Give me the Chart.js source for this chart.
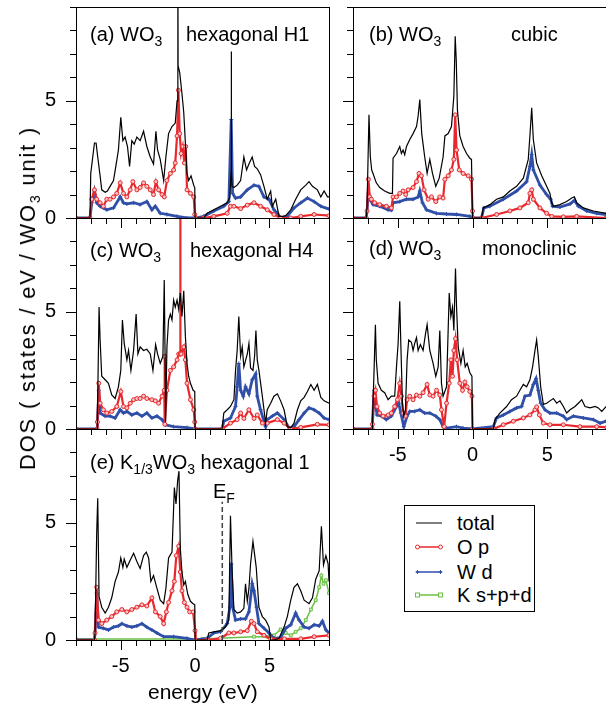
<!DOCTYPE html>
<html>
<head>
<meta charset="utf-8">
<script src="https://cdn.jsdelivr.net/npm/chart.js@4.4.0/dist/chart.umd.min.js"></script>
<style>
body { margin:0; width:606px; height:704px; overflow:hidden; background:#fff; position:relative;
       font-family:"Liberation Sans", Arial, sans-serif; color:#000; }
canvas { position:absolute; }
.lbl { position:absolute; font-size:20px; line-height:20px; white-space:nowrap; }
.lbl sub { font-size:14px; vertical-align:-5px; line-height:0; }
#ytitle { left:28px; top:298px; font-size:22px; letter-spacing:1.8px; transform:translate(-50%,-50%) rotate(-90deg); }
#legend { position:absolute; left:404px; top:505px; width:129px; height:105px; border:1px solid #000; background:#fff; }
#legend .row { position:absolute; left:0; height:20px; width:129px; }
#legend svg { position:absolute; left:10px; top:5px; }
#legend span { position:absolute; left:52px; top:0; font-size:20px; line-height:20px; }
</style>
</head>
<body>
<canvas id="pa" width="340" height="268" style="left:0;top:0"></canvas>
<canvas id="pb" width="290" height="268" style="left:330px;top:0"></canvas>
<canvas id="pc" width="340" height="268" style="left:0;top:211px"></canvas>
<canvas id="pd" width="290" height="268" style="left:330px;top:211px"></canvas>
<canvas id="pe" width="340" height="268" style="left:0;top:422px"></canvas>

<div class="lbl" style="left:90px;top:24px">(a) WO<sub>3</sub></div>
<div class="lbl" style="left:186px;top:24px">hexagonal H1</div>
<div class="lbl" style="left:369px;top:24px">(b) WO<sub>3</sub></div>
<div class="lbl" style="left:511px;top:24px">cubic</div>
<div class="lbl" style="left:90px;top:240px">(c) WO<sub>3</sub></div>
<div class="lbl" style="left:190px;top:240px">hexagonal H4</div>
<div class="lbl" style="left:369px;top:238px">(d) WO<sub>3</sub></div>
<div class="lbl" style="left:482px;top:238px">monoclinic</div>
<div class="lbl" style="left:90px;top:452px">(e) K<sub>1/3</sub>WO<sub>3</sub> hexagonal 1</div>
<div class="lbl" style="left:213px;top:481px">E<sub>F</sub></div>
<div class="lbl" style="left:148px;top:682px;font-size:21px">energy (eV)</div>
<div class="lbl" id="ytitle">DOS ( states / eV / WO<sub>3</sub> unit )</div>

<div id="legend"></div>

<script>
// axis setup
const xRange = [-8, 9];
const yRange = [0, 9];
const xLabelValues = [-5, 0, 5];
const yLabelValues = [0, 5];
const efEnergy = 1.83;
const efTop = 5.9;

const seriesNames = ["total", "O p", "W d", "K s+p+d"];
const seriesColors = ["#000000", "#e8282d", "#2f4fa8", "#6cbf45"];

// (a) hexagonal H1  [energy, DOS]
const aTotal = [[-8,0],[-7.06,0],[-7.01,1.9],[-6.76,3.2],[-6.65,3.2],[-6.54,2.6],[-6.38,1.8],[-6.27,1.2],[-6.04,1.1],[-5.89,1.15],[-5.71,1.35],[-5.48,1.6],[-5.30,2.3],[-5.15,2.9],[-4.99,4.3],[-4.85,3.3],[-4.70,3.45],[-4.54,3.05],[-4.40,2.2],[-4.25,3.3],[-4.09,3.15],[-3.91,3.45],[-3.69,3.3],[-3.46,3.7],[-3.24,3.05],[-3.01,2.6],[-2.79,2.3],[-2.63,3.7],[-2.52,2.9],[-2.34,2.5],[-2.11,1.6],[-1.96,2.6],[-1.78,3.6],[-1.55,3.9],[-1.33,4.05],[-1.21,5.0],[-1.16,5.2],[-1.15,12],[-1.14,6.5],[-1.03,6.2],[-0.88,5.3],[-0.76,4.5],[-0.65,3.2],[-0.54,1.9],[-0.43,1.6],[-0.27,1.8],[-0.09,1.4],[-0.02,1.3],[0,0],[0.58,0],[0.81,0.2],[1.26,0.35],[1.71,0.5],[2.16,0.65],[2.34,0.9],[2.42,2.0],[2.43,7.1],[2.45,2.0],[2.49,1.35],[2.61,1.3],[2.83,1.4],[3.06,1.6],[3.28,2.6],[3.46,2.05],[3.62,2.3],[3.84,2.6],[4.00,2.2],[4.18,2.1],[4.40,1.85],[4.63,1.35],[4.85,0.8],[5.08,1.15],[5.19,0.5],[5.42,0.8],[5.64,0.07],[5.87,0.07],[6.09,0.1],[6.43,0.35],[6.76,0.8],[7.10,1.2],[7.44,1.4],[7.66,1.55],[7.89,1.35],[8.22,1.2],[8.45,0.9],[8.67,1.15],[8.90,0.9],[9.0,0.9]];
const aOp = [[-8,0],[-7.06,0],[-6.94,0.8],[-6.76,1.2],[-6.61,0.8],[-6.38,0.65],[-6.16,0.5],[-5.93,0.8],[-5.71,0.8],[-5.48,0.9],[-5.26,1.05],[-5.03,1.5],[-4.81,1.05],[-4.58,0.9],[-4.36,1.2],[-4.18,1.55],[-3.91,1.2],[-3.69,1.3],[-3.46,1.5],[-3.24,1.35],[-3.01,1.2],[-2.79,1.0],[-2.63,1.55],[-2.45,1.2],[-2.22,1.0],[-2.07,0.9],[-1.89,1.6],[-1.66,1.9],[-1.44,2.05],[-1.33,2.35],[-1.21,3.5],[-1.12,5.45],[-1.03,3.6],[-0.94,2.75],[-0.83,3.05],[-0.72,2.35],[-0.63,3.05],[-0.54,1.2],[-0.31,1.05],[-0.09,0.9],[-0.02,0.15],[0.04,0],[0.58,0],[1.26,0.07],[2.16,0.2],[2.38,0.5],[2.61,0.5],[3.06,0.4],[3.51,0.55],[3.96,0.65],[4.40,0.5],[4.85,0.35],[5.30,0.15],[5.75,0],[6.43,0],[7.10,0.07],[8.00,0.15],[9.0,0.1]];
const aWd = [[-8,0],[-7.06,0],[-6.94,0.65],[-6.76,1.15],[-6.61,0.65],[-6.38,0.5],[-6.16,0.43],[-5.93,0.35],[-5.48,0.43],[-5.03,0.9],[-4.81,0.65],[-4.58,0.6],[-4.13,0.65],[-3.69,0.57],[-3.24,0.7],[-2.90,0.35],[-2.67,0.5],[-2.34,0.2],[-1.89,0.15],[-1.21,0.07],[-0.54,0],[0.04,0],[0.58,0.07],[1.26,0.3],[1.93,0.5],[2.27,0.7],[2.43,4.2],[2.52,1.05],[2.72,0.85],[3.06,0.9],[3.51,1.2],[3.96,1.4],[4.29,1.35],[4.63,0.9],[4.97,0.8],[5.30,0.35],[5.53,0.2],[5.75,0],[6.20,0.07],[6.65,0.43],[7.10,0.65],[7.55,0.85],[8.00,0.7],[8.45,0.5],[9.0,0.38]];

// (b) cubic
const bTotal = [[-8,0],[-7.11,0],[-7.06,0.5],[-6.93,4.4],[-6.84,2.6],[-6.75,2.05],[-6.66,1.9],[-6.44,1.5],[-6.21,1.3],[-5.88,1.15],[-5.54,1.05],[-5.36,1.05],[-5.32,2.55],[-5.09,2.75],[-4.87,3.05],[-4.76,2.75],[-4.65,2.9],[-4.54,2.7],[-4.42,3.05],[-4.20,3.35],[-3.98,3.6],[-3.75,3.9],[-3.64,4.35],[-3.53,5.05],[-3.40,3.6],[-3.20,2.6],[-3.04,1.9],[-2.86,2.5],[-2.68,1.9],[-2.46,1.35],[-2.23,1.7],[-1.97,2.6],[-1.85,3.5],[-1.63,3.6],[-1.41,3.9],[-1.25,5.2],[-1.16,7.75],[-1.09,6.75],[-1.01,4.6],[-0.85,3.5],[-0.63,3.05],[-0.40,2.75],[-0.18,2.55],[-0.07,2.5],[0,0],[0.60,0],[0.72,0.43],[1.16,0.57],[1.61,0.8],[2.06,0.9],[2.50,1.15],[2.95,1.35],[3.40,1.7],[3.73,2.5],[3.84,3.5],[3.96,4.7],[4.07,3.35],[4.29,2.35],[4.63,1.8],[4.96,1.35],[5.18,1.05],[5.30,0.65],[5.41,0.5],[5.85,0.57],[6.30,0.7],[6.64,0.85],[6.82,0.9],[6.97,0.65],[7.42,0.43],[8.09,0.3],[8.94,0.2],[9,0.2]];
const bOp = [[-8,0],[-7.11,0],[-7.06,0.3],[-6.97,1.65],[-6.88,0.9],[-6.77,0.8],[-6.55,0.65],[-6.21,0.57],[-5.77,0.5],[-5.43,0.43],[-5.32,0.9],[-5.09,0.9],[-4.87,1.05],[-4.65,1.15],[-4.47,1.0],[-4.31,1.2],[-3.98,1.3],[-3.75,1.55],[-3.58,1.9],[-3.42,1.8],[-3.24,1.2],[-2.97,0.8],[-2.75,0.9],[-2.46,0.7],[-2.19,0.9],[-1.97,0.85],[-1.85,1.65],[-1.63,1.8],[-1.41,2.05],[-1.25,2.5],[-1.16,4.4],[-1.07,2.9],[-0.89,2.05],[-0.63,1.9],[-0.29,1.8],[-0.07,1.65],[0,0.3],[0.04,0],[0.60,0],[1.61,0.15],[2.50,0.3],[3.17,0.43],[3.73,0.65],[3.84,1.05],[3.96,1.2],[4.07,0.8],[4.51,0.43],[4.96,0.2],[5.30,0.07],[6.08,0.05],[6.97,0.07],[8.94,0],[9,0]];
const bWd = [[-8,0],[-7.11,0],[-7.06,0.3],[-6.97,1.05],[-6.88,0.8],[-6.66,0.57],[-6.21,0.5],[-5.65,0.35],[-5.43,0.33],[-5.32,0.65],[-4.87,0.7],[-4.42,0.8],[-3.98,0.8],[-3.64,0.9],[-3.53,1.15],[-3.35,0.65],[-3.08,0.35],[-2.41,0.2],[-1.74,0.17],[-1.07,0.15],[-0.18,0.07],[0,0],[0.60,0],[0.76,0.43],[1.16,0.5],[2.06,0.8],[2.95,1.15],[3.62,1.55],[3.84,2.2],[3.96,2.7],[4.07,2.05],[4.51,1.4],[4.96,1.0],[5.23,0.8],[5.36,0.5],[5.85,0.47],[6.53,0.6],[6.82,0.75],[7.08,0.5],[7.64,0.3],[8.31,0.2],[8.94,0.15],[9,0.15]];

// (c) hexagonal H4
const cTotal = [[-8,0],[-6.58,0],[-6.56,0.5],[-6.45,5.2],[-6.38,3.8],[-6.27,2.25],[-6.04,2.1],[-5.82,1.95],[-5.60,1.45],[-5.37,1.3],[-5.15,1.8],[-4.99,2.5],[-4.88,4.65],[-4.76,3.65],[-4.58,2.95],[-4.47,3.35],[-4.31,2.5],[-4.13,3.35],[-3.96,4.9],[-3.84,3.2],[-3.69,3.5],[-3.46,3.35],[-3.24,3.4],[-3.01,3.2],[-2.83,2.5],[-2.65,3.6],[-2.52,3.2],[-2.34,2.8],[-2.16,3.1],[-2.07,6.35],[-2.00,2.25],[-1.98,0.3],[-1.89,3.5],[-1.78,4.65],[-1.66,4.9],[-1.55,4.65],[-1.44,5.5],[-1.33,5.2],[-1.21,5.5],[-1.10,5.1],[-0.99,5.8],[-0.88,4.8],[-0.76,5.9],[-0.65,3.95],[-0.54,2.8],[-0.43,2.25],[-0.31,1.95],[-0.13,1.65],[-0.02,1.6],[0,0],[1.82,0],[1.93,0.68],[2.16,0.82],[2.38,0.96],[2.61,1.25],[2.72,2.5],[2.83,3.35],[2.94,4.8],[3.06,3.1],[3.17,3.5],[3.28,2.65],[3.51,3.2],[3.62,3.65],[3.73,2.6],[3.89,2.5],[4.00,3.1],[4.09,4.2],[4.18,2.95],[4.29,2.5],[4.52,1.4],[4.74,0.25],[4.85,0.82],[5.08,1.1],[5.30,1.4],[5.53,1.5],[5.75,1.2],[5.98,0.82],[6.20,0.1],[6.43,0.05],[6.65,0.25],[6.88,0.82],[7.10,1.2],[7.33,1.35],[7.55,1.6],[7.78,1.9],[8.00,1.65],[8.22,1.9],[8.45,1.35],[8.67,1.2],[9.0,1.1]];
const cOp = [[-8,0],[-6.58,0],[-6.56,0.3],[-6.47,1.95],[-6.38,1.1],[-6.16,0.82],[-5.93,0.68],[-5.60,0.75],[-5.26,0.96],[-4.99,1.6],[-4.81,0.96],[-4.58,0.9],[-4.36,1.1],[-4.13,1.25],[-3.91,1.3],[-3.69,1.3],[-3.46,1.4],[-3.24,1.3],[-2.90,1.25],[-2.67,1.2],[-2.45,1.1],[-2.22,1.4],[-2.07,1.65],[-2.05,3.1],[-2.03,0.2],[-1.89,1.65],[-1.66,2.5],[-1.44,2.65],[-1.21,2.95],[-1.10,3.2],[-1.00,3.2],[-0.99,15],[-0.98,3.2],[-0.94,3.2],[-0.76,3.5],[-0.65,2.95],[-0.54,1.95],[-0.31,1.25],[-0.09,0.82],[-0.02,0.3],[0,0],[1.82,0],[2.38,0.25],[2.83,0.4],[3.06,0.68],[3.28,0.45],[3.62,0.82],[3.96,0.45],[4.18,0.6],[4.52,0.25],[4.85,0.25],[5.53,0.4],[5.98,0.25],[6.43,0],[7.10,0.07],[8.22,0.2],[9.0,0.18]];
const cWd = [[-8,0],[-6.58,0],[-6.56,0.3],[-6.47,1.65],[-6.38,0.68],[-6.04,0.55],[-5.71,0.55],[-5.37,0.47],[-5.03,0.82],[-4.81,0.68],[-4.58,0.75],[-4.25,0.6],[-3.91,0.68],[-3.57,0.55],[-3.24,0.68],[-2.90,0.47],[-2.56,0.55],[-2.22,0.4],[-2.00,0.18],[-1.44,0.1],[-0.54,0.06],[0,0],[1.82,0],[1.93,0.33],[2.38,0.47],[2.72,0.96],[2.83,1.8],[2.94,2.8],[3.06,1.65],[3.24,1.4],[3.39,1.8],[3.62,1.5],[3.84,2.1],[4.07,2.35],[4.18,1.4],[4.40,0.82],[4.74,0.1],[4.85,0.4],[5.19,0.55],[5.53,0.68],[5.98,0.4],[6.31,0.05],[6.65,0.1],[6.99,0.4],[7.33,0.68],[7.66,0.9],[8.00,0.82],[8.34,0.68],[8.67,0.47],[9.0,0.4]];

// (d) monoclinic
const dTotal = [[-8,0],[-6.72,0],[-6.70,0.3],[-6.59,2.5],[-6.50,4.45],[-6.44,2.95],[-6.32,1.95],[-6.10,1.65],[-5.88,1.55],[-5.65,1.25],[-5.43,1.4],[-5.21,1.4],[-5.09,2.65],[-4.98,3.65],[-4.87,5.45],[-4.80,3.65],[-4.69,1.1],[-4.60,0.55],[-4.49,0.82],[-4.38,2.95],[-4.27,3.8],[-4.09,3.7],[-3.98,3.35],[-3.87,3.65],[-3.75,3.9],[-3.64,3.35],[-3.49,3.6],[-3.31,3.35],[-3.15,4.05],[-3.04,4.45],[-2.86,3.35],[-2.64,2.8],[-2.46,2.25],[-2.30,2.65],[-2.19,4.2],[-2.08,1.95],[-1.97,1.4],[-1.74,1.8],[-1.56,5.8],[-1.45,4.8],[-1.34,5.2],[-1.25,4.2],[-1.14,6.85],[-1.07,5.2],[-0.96,3.5],[-0.78,2.8],[-0.63,3.35],[-0.49,2.65],[-0.36,2.8],[-0.18,2.4],[-0.04,2.25],[0,0],[1.39,0],[1.50,0.4],[1.83,0.68],[2.28,0.96],[2.61,1.25],[2.95,1.4],[3.17,1.65],[3.40,1.9],[3.62,1.8],[3.84,2.1],[4.02,2.65],[4.18,3.35],[4.29,3.8],[4.40,3.1],[4.56,1.8],[4.74,1.05],[4.96,1.1],[5.18,1.2],[5.41,1.3],[5.63,1.1],[5.85,1.2],[6.08,0.96],[6.30,0.68],[6.53,0.82],[6.86,0.96],[7.08,1.1],[7.31,1.25],[7.53,0.96],[7.87,0.9],[8.20,0.96],[8.42,0.9],[8.65,0.75],[8.94,0.96],[9,0.96]];
const dOp = [[-8,0],[-6.72,0],[-6.70,0.2],[-6.59,1.4],[-6.50,1.65],[-6.39,0.96],[-6.21,0.68],[-5.99,0.55],[-5.65,0.6],[-5.43,0.68],[-5.21,0.96],[-5.03,1.25],[-4.87,1.95],[-4.76,1.4],[-4.65,0.68],[-4.49,0.55],[-4.38,1.25],[-4.20,1.4],[-3.98,1.25],[-3.75,1.45],[-3.53,1.4],[-3.31,1.55],[-3.04,1.9],[-2.86,1.45],[-2.64,1.4],[-2.41,1.65],[-2.19,1.45],[-2.08,0.82],[-1.90,0.1],[-1.74,1.1],[-1.56,1.95],[-1.45,2.95],[-1.34,2.25],[-1.25,3.35],[-1.14,3.85],[-1.03,2.95],[-0.85,1.95],[-0.67,1.65],[-0.51,2.0],[-0.36,1.8],[-0.18,1.6],[-0.04,1.4],[0,0],[1.39,0],[2.06,0.18],[2.73,0.33],[3.40,0.47],[3.84,0.6],[4.18,0.82],[4.29,0.94],[4.47,0.6],[4.74,0.25],[5.18,0.18],[6.08,0.18],[7.19,0.1],[8.31,0.1],[9,0.07]];
const dWd = [[-8,0],[-6.72,0],[-6.70,0.2],[-6.59,1.65],[-6.50,1.1],[-6.39,0.6],[-6.10,0.55],[-5.77,0.4],[-5.43,0.55],[-5.09,0.96],[-4.94,1.1],[-4.80,0.68],[-4.60,0.1],[-4.38,0.55],[-4.20,0.75],[-3.87,0.75],[-3.53,0.82],[-3.20,0.68],[-2.86,0.68],[-2.46,0.55],[-2.19,0.4],[-1.97,0.1],[-1.74,0.04],[-1.07,0.1],[-0.63,0.04],[0,0],[1.39,0.1],[1.61,0.47],[2.06,0.6],[2.50,0.75],[2.95,0.9],[3.28,0.96],[3.51,1.4],[3.84,1.45],[4.07,1.9],[4.25,2.15],[4.40,1.65],[4.56,1.1],[4.85,0.82],[5.18,0.68],[5.63,0.68],[6.08,0.55],[6.30,0.4],[6.75,0.55],[7.42,0.47],[8.09,0.4],[8.54,0.25],[8.94,0.33],[9,0.33]];

// (e) K1/3WO3 hexagonal 1
const eTotal = [[-8,0],[-6.76,0],[-6.72,0.3],[-6.61,4.55],[-6.54,6.05],[-6.45,1.85],[-6.27,1.4],[-6.04,1.15],[-5.82,1.4],[-5.60,1.8],[-5.37,2.5],[-5.15,2.9],[-4.99,3.5],[-4.85,3.1],[-4.76,3.45],[-4.58,3.1],[-4.36,3.4],[-4.13,3.7],[-3.91,3.35],[-3.69,3.05],[-3.46,3.6],[-3.28,3.75],[-3.12,3.5],[-2.97,2.5],[-2.79,2.75],[-2.56,2.2],[-2.34,1.7],[-2.11,1.55],[-1.96,2.2],[-1.78,3.5],[-1.55,3.75],[-1.39,6.5],[-1.28,5.8],[-1.17,6.8],[-1.08,7.2],[-0.99,3.9],[-0.88,2.9],[-0.76,2.35],[-0.65,2.5],[-0.49,1.95],[-0.31,1.65],[-0.13,1.55],[-0.02,1.5],[0,0],[0.81,0],[0.92,0.3],[1.26,0.35],[1.71,0.4],[2.04,0.55],[2.27,0.85],[2.38,5.3],[2.49,2.95],[2.61,1.3],[2.83,1.15],[3.06,1.2],[3.28,1.35],[3.39,2.4],[3.51,1.65],[3.62,2.2],[3.73,3.25],[3.89,4.2],[4.00,3.65],[4.11,3.1],[4.29,1.4],[4.52,1.0],[4.74,0.85],[4.97,0.55],[5.08,0],[5.30,0],[5.64,0.07],[5.98,0.55],[6.20,1.0],[6.43,1.7],[6.65,2.25],[6.88,2.4],[7.10,2.1],[7.33,1.7],[7.66,1.55],[7.89,1.8],[8.11,2.6],[8.34,2.95],[8.49,4.85],[8.63,3.2],[8.79,3.6],[8.94,3.25],[9.0,2.5]];
const eOp = [[-8,0],[-6.76,0],[-6.72,0.3],[-6.61,2.25],[-6.49,0.85],[-6.27,0.7],[-5.93,0.85],[-5.60,1.0],[-5.26,1.2],[-4.92,1.3],[-4.58,1.2],[-4.25,1.3],[-3.91,1.4],[-3.57,1.5],[-3.24,1.45],[-2.90,1.8],[-2.67,1.2],[-2.34,1.0],[-2.11,0.7],[-1.93,1.2],[-1.78,1.6],[-1.55,2.1],[-1.39,2.5],[-1.26,3.6],[-1.10,4.0],[-0.99,2.9],[-0.88,2.1],[-0.72,1.6],[-0.54,1.4],[-0.36,1.2],[-0.13,1.2],[0,0.4],[0.04,0],[0.81,0],[1.71,0.07],[2.27,0.3],[2.61,0.3],[3.06,0.35],[3.51,0.4],[3.78,0.8],[3.96,0.7],[4.18,0.35],[4.63,0.2],[5.08,0.05],[6.0,0.05],[7.10,0.05],[8.0,0.14],[9.0,0.2]];
const eWd = [[-8,0],[-6.76,0],[-6.72,0.3],[-6.61,2.0],[-6.49,0.55],[-6.16,0.5],[-5.82,0.43],[-5.48,0.55],[-5.15,0.6],[-4.92,0.7],[-4.58,0.6],[-4.25,0.55],[-3.91,0.6],[-3.57,0.7],[-3.24,0.55],[-2.90,0.43],[-2.56,0.3],[-2.11,0.14],[-1.44,0.14],[-0.54,0.07],[0,0],[0.81,0.07],[1.26,0.3],[1.71,0.35],[2.16,0.7],[2.34,1.4],[2.43,3.25],[2.52,1.4],[2.72,0.85],[3.06,0.9],[3.39,0.9],[3.62,1.2],[3.84,2.4],[3.96,2.1],[4.13,1.4],[4.29,0.7],[4.63,0.5],[4.97,0.3],[5.30,0.07],[5.75,0.1],[6.09,0.5],[6.43,0.65],[6.76,1.15],[6.99,0.85],[7.33,0.55],[7.66,0.5],[8.00,0.65],[8.34,0.6],[8.56,0.8],[8.79,0.43],[9.0,0.3]];
const eKspd = [[-8,0.04],[0.5,0.04],[3.96,0.14],[4.85,0.14],[5.30,0.2],[5.75,0.45],[6.09,0.3],[6.43,0.2],[6.76,0.35],[7.10,0.5],[7.44,0.85],[7.78,1.3],[8.11,1.7],[8.34,2.25],[8.49,2.75],[8.63,2.4],[8.79,2.55],[9.0,2.0]];

const tickFont = { family: '"Liberation Sans", Arial, sans-serif', size: 20 };

const styles = [
  { borderColor: seriesColors[0], borderWidth: 1.2, pointRadius: 0 },
  { borderColor: seriesColors[1], borderWidth: 2.2, pointRadius: 2, pointStyle: 'circle',
    pointBorderColor: seriesColors[1], pointBackgroundColor: '#f6c4c4', pointBorderWidth: 1 },
  { borderColor: seriesColors[2], borderWidth: 2.8, pointRadius: 2, pointStyle: 'cross',
    pointBorderColor: seriesColors[2], pointBorderWidth: 1 },
  { borderColor: seriesColors[3], borderWidth: 1.5, pointRadius: 2, pointStyle: 'rect',
    pointBorderColor: seriesColors[3], pointBackgroundColor: '#d6efc8', pointBorderWidth: 1 }
];

// frame, tick marks and the Fermi level marker
const framePlugin = {
  id: 'frame',
  afterDatasetsDraw(chart) {
    const { ctx, chartArea: a, scales: { x, y } } = chart;
    ctx.save();
    ctx.strokeStyle = '#000';
    ctx.lineWidth = 1;
    ctx.strokeRect(a.left + 0.5, a.top + 0.5, a.right - a.left, a.bottom - a.top);
    ctx.beginPath();
    for (let v = xRange[0]; v <= xRange[1]; v++) {
      const px = Math.round(x.getPixelForValue(v)) + 0.5;
      const len = v % 5 === 0 ? 10 : 6;
      ctx.moveTo(px, a.bottom);
      ctx.lineTo(px, a.bottom + len);
    }
    for (let v = yRange[0]; v <= yRange[1]; v++) {
      const py = Math.round(y.getPixelForValue(v)) + 0.5;
      const len = v % 5 === 0 ? 10 : 6;
      ctx.moveTo(a.left - len, py);
      ctx.lineTo(a.left, py);
    }
    ctx.stroke();
    const ef = chart.options.plugins.frame && chart.options.plugins.frame.ef;
    if (ef) {
      ctx.strokeStyle = '#444';
      ctx.lineWidth = 1.5;
      ctx.setLineDash([5, 3]);
      const px = x.getPixelForValue(ef[0]);
      ctx.beginPath();
      ctx.moveTo(px, y.getPixelForValue(0));
      ctx.lineTo(px, y.getPixelForValue(ef[1]));
      ctx.stroke();
    }
    ctx.restore();
  }
};

function noPad(s) {
  s.paddingTop = 0; s.paddingBottom = 0; s.paddingLeft = 0; s.paddingRight = 0;
}

function makePanel(id, series, yw, padR, showX, showY, ef) {
  const datasets = series.map(s => Object.assign({
    label: seriesNames[s.k],
    data: s.pts.map(p => ({ x: p[0], y: p[1] })),
    tension: 0,
    fill: false
  }, styles[s.k]));
  new Chart(document.getElementById(id), {
    type: 'line',
    data: { datasets: datasets },
    options: {
      responsive: false,
      animation: false,
      devicePixelRatio: 1,
      layout: { padding: { top: 7, right: padR, left: 0, bottom: 0 } },
      plugins: { legend: { display: false }, tooltip: { enabled: false }, frame: { ef: ef } },
      scales: {
        x: {
          type: 'linear', min: xRange[0], max: xRange[1],
          afterFit: s => { s.height = 50; noPad(s); },
          grid: { display: false, drawTicks: false },
          border: { display: false },
          ticks: {
            display: showX, stepSize: 1, autoSkip: false, maxRotation: 0, padding: 14,
            font: tickFont, color: '#000',
            callback: v => xLabelValues.includes(v) ? String(v) : ''
          }
        },
        y: {
          type: 'linear', min: yRange[0], max: yRange[1],
          afterFit: s => { s.width = yw; noPad(s); },
          grid: { display: false, drawTicks: false },
          border: { display: false },
          ticks: {
            display: showY, stepSize: 1, autoSkip: false, padding: 20,
            font: tickFont, color: '#000',
            callback: v => yLabelValues.includes(v) ? String(v) : ''
          }
        }
      }
    },
    plugins: [framePlugin]
  });
}

// draw order: first dataset ends up on top
makePanel('pa', [{k:0, pts:aTotal}, {k:1, pts:aOp}, {k:2, pts:aWd}], 76, 11, false, true);
makePanel('pb', [{k:0, pts:bTotal}, {k:1, pts:bOp}, {k:2, pts:bWd}], 23, 13, false, false);
makePanel('pc', [{k:0, pts:cTotal}, {k:1, pts:cOp}, {k:2, pts:cWd}], 76, 11, false, true);
makePanel('pd', [{k:0, pts:dTotal}, {k:1, pts:dOp}, {k:2, pts:dWd}], 23, 13, true, false);
makePanel('pe', [{k:0, pts:eTotal}, {k:1, pts:eOp}, {k:2, pts:eWd}, {k:3, pts:eKspd}], 76, 11, true, true, [efEnergy, efTop]);

// legend
const legend = document.getElementById('legend');
const rowTops = [7, 31, 56, 79];
const markerSvg = [
  '',
  '<circle cx="2.5" cy="5" r="2" fill="#fff" stroke="#e8282d"/><circle cx="25.5" cy="5" r="2" fill="#fff" stroke="#e8282d"/>',
  '<path d="M2.5 3v4M0.5 5h4M25.5 3v4M23.5 5h4" stroke="#2f4fa8"/>',
  '<rect x="0.5" y="3" width="4" height="4" fill="#fff" stroke="#6cbf45"/><rect x="23.5" y="3" width="4" height="4" fill="#fff" stroke="#6cbf45"/>'
];
seriesNames.forEach((name, i) => {
  const row = document.createElement('div');
  row.className = 'row';
  row.style.top = rowTops[i] + 'px';
  row.innerHTML = '<svg width="28" height="10"><line x1="1" y1="5" x2="27" y2="5" stroke="' + seriesColors[i] +
    '" stroke-width="' + (i === 0 ? 1 : 1.5) + '"/>' + markerSvg[i] + '</svg><span>' + name + '</span>';
  legend.appendChild(row);
});
</script>
</body>
</html>
